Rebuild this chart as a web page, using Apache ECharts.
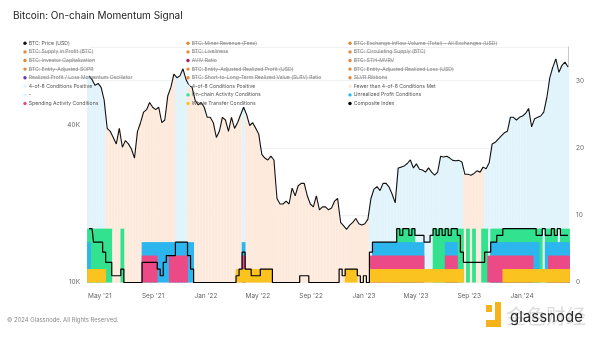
<!DOCTYPE html>
<html>
<head>
<meta charset="utf-8">
<script src="https://cdn.jsdelivr.net/npm/echarts@6/dist/echarts.min.js"></script>
<style>
  html, body { margin: 0; padding: 0; background: #fff; }
  #chart { width: 600px; height: 338px; }
</style>
</head>
<body>
<div id="chart"></div>
<script>
// Weekly observations, first week starting 2021-04-06
const firstWeek = '2021-04-06';

// BTC price, thousands of USD
const priceK = [
  62, 60, 57, 58, 56, 50, 39, 38, 36, 34,
  39, 33, 35, 34, 32.5, 30, 38, 41, 45, 46,
  49, 47, 46, 47, 41, 42, 52, 56, 63, 61,
  62, 66, 60, 57, 56, 50, 48, 49, 47, 43,
  43, 41, 36, 38, 43, 42, 38, 43, 39, 41,
  44, 47, 44, 40, 41, 39, 37, 31, 30, 29.5,
  30.5, 29.5, 21, 20, 20, 20.5, 20, 23, 21.5, 23.5,
  24, 24, 21.5, 20, 19.5, 21.5, 19, 19.5, 19.5, 19,
  19.3, 20.5, 21, 17, 16.5, 16, 16.6, 17, 17.6, 16.8,
  16.6, 16.8, 17.5, 21, 22.8, 23.3, 22.5, 24, 24, 23.2,
  21.8, 20.2, 27.5, 27.7, 28, 28.6, 29.5, 27.5, 28.5, 27.2,
  27, 26.5, 27.5, 26.5, 25.8, 26.5, 30.5, 30.3, 30.5, 30,
  29.4, 29.3, 29.4, 29, 26, 26, 25.8, 26.2, 26.8, 26.5,
  27.7, 27.3, 28.8, 34, 34.5, 35.5, 36.5, 37.5, 38, 43,
  43, 42, 43, 43.5, 44.5, 46.5, 39.5, 42.5, 43, 43.5,
  45, 51, 61, 67, 72, 64, 68, 70, 67
];

// Composite index (0-8 scale)
const compositeIndex = [
  8, 8, 6, 6, 6, 4.5, 3, 3, 1, 1,
  1, 2, 0, 0, 0, 0, 0, 0, 3, 3,
  3, 3, 3, 2, 1, 3, 4, 4, 4, 6,
  6, 6, 6, 4, 2, 0, 0, 0, 0, 0,
  0, 0, 0, 0, 0, 0, 0, 0, 0, 1,
  2, 4.5, 2, 2, 1, 1, 1, 2, 2, 2,
  2, 0, 0, 0, 0, 0, 0, 0, 0, 0,
  1, 1, 1, 0, 0, 0, 0, 0, 0, 0,
  0, 0, 0, 2, 1, 2, 2, 2, 2, 1,
  0, 1, 0, 4.5, 6, 6, 6, 6, 6, 6,
  6, 6, 8, 7, 8, 8, 7, 8, 7, 7,
  7, 6, 6, 7, 8, 7, 8, 7, 8, 7,
  8, 8, 7, 4.5, 3, 3, 3, 3, 3, 3,
  3, 4.5, 4.5, 6, 6, 7, 7, 8, 8, 8,
  8, 8, 8, 8, 8, 8, 8, 8, 7, 7,
  8, 7, 7, 8, 7, 8, 7, 7, 7
];

// Week-index ranges (inclusive) in which each condition group is met
const whaleWeeks    = [[0, 5], [49, 60], [85, 88], [93, 123], [137, 158]];
const spendingWeeks = [[18, 22], [27, 32], [51, 51], [93, 110], [118, 121], [132, 146], [152, 158]];
const profitWeeks   = [[0, 0], [18, 34], [51, 51], [94, 110], [118, 121], [133, 148], [151, 158]];
const activityWeeks = [[0, 7], [11, 11], [102, 107], [114, 123], [125, 125], [127, 127], [130, 131],
                       [133, 149], [151, 154], [156, 158]];

// Band heights on the index axis
const whaleLevel = 2, spendingLevel = 4, profitLevel = 6, activityLevel = 8;
const positiveThreshold = 4;

// Axis ticks
const xTickDates = ['2021-05-01', '2021-09-01', '2022-01-01', '2022-05-01', '2022-09-01',
                    '2023-01-01', '2023-05-01', '2023-09-01', '2024-01-01'];
const priceTicks = [10000, 40000];
const indexTicks = [0, 10, 20, 30];

// Legend columns
const legendColumns = [
  ['BTC: Price (USD)', 'BTC: Supply in Profit (BTC)', 'BTC: Investor Capitalization',
   'BTC: Entity-Adjusted SOPR', 'Realized Profit / Loss Momentum Oscillator',
   '4-of-8 Conditions Positive', '-', 'Spending Activity Conditions'],
  ['BTC: Miner Revenue (Fees)', 'BTC: Liveliness', 'AVIV Ratio',
   'BTC: Entity-Adjusted Realized Profit (USD)', 'BTC: Short-to-Long-Term Realized Value (SLRV) Ratio',
   '4-of-8 Conditions Positive ', 'On-chain Activity Conditions', 'Whale Transfer Conditions'],
  ['BTC: Exchange Inflow Volume (Total) - All Exchanges (USD)', 'BTC: Circulating Supply (BTC)',
   'BTC: STH-MVRV', 'BTC: Entity-Adjusted Realized Loss (USD)', 'SLVR Ribbons',
   'Fewer than 4-of-8 Conditions Met', 'Unrealized Profit Conditions', 'Composite Index']
];
const hiddenSeries = new Set([
  'BTC: Supply in Profit (BTC)', 'BTC: Investor Capitalization', 'BTC: Entity-Adjusted SOPR',
  'Realized Profit / Loss Momentum Oscillator', 'BTC: Miner Revenue (Fees)', 'BTC: Liveliness',
  'AVIV Ratio', 'BTC: Entity-Adjusted Realized Profit (USD)',
  'BTC: Short-to-Long-Term Realized Value (SLRV) Ratio',
  'BTC: Exchange Inflow Volume (Total) - All Exchanges (USD)', 'BTC: Circulating Supply (BTC)',
  'BTC: STH-MVRV', 'BTC: Entity-Adjusted Realized Loss (USD)', 'SLVR Ribbons'
]);

// ---- styling ----
const FONT = 'Inter, "Noto Sans", sans-serif';
const C = {
  price: '#111111', composite: '#000000',
  activity: '#33e28e', profit: '#2db6ee', spending: '#ec4a86', whale: '#fbc31f',
  positive: '#e1f3fb', negative: '#fdeadc',
  orange: '#e0893a', purple: '#6b32b8', magenta: '#a3226f'
};
const markerColor = {
  'BTC: Price (USD)': C.price, 'Realized Profit / Loss Momentum Oscillator': C.purple,
  'AVIV Ratio': C.magenta, '4-of-8 Conditions Positive': C.positive, '4-of-8 Conditions Positive ': C.positive,
  '-': C.positive, 'Spending Activity Conditions': C.spending, 'On-chain Activity Conditions': C.activity,
  'Whale Transfer Conditions': C.whale, 'Fewer than 4-of-8 Conditions Met': C.negative,
  'Unrealized Profit Conditions': C.profit, 'Composite Index': C.composite
};

const DAY = 864e5;
const t0 = Date.parse(firstWeek + 'T00:00:00Z');
const weekTime = priceK.map((_, i) => t0 + i * 7 * DAY);
const utc = s => Date.parse(s + 'T00:00:00Z');

function bandData(ranges, level) {
  const on = new Array(weekTime.length).fill(false);
  ranges.forEach(([a, b]) => { for (let i = a; i <= b; i++) on[i] = true; });
  return weekTime.map((t, i) => [t, on[i] ? level : '-']);
}

const priceSeries = weekTime.map((t, i) => [t, priceK[i] * 1000]);
const positiveShade = weekTime.map((t, i) => [t, compositeIndex[i] > positiveThreshold ? priceK[i] * 1000 : '-']);
const negativeShade = weekTime.map((t, i) => [t, compositeIndex[i] > positiveThreshold ? '-' : priceK[i] * 1000]);
const compositeSeries = weekTime.map((t, i) => [t, compositeIndex[i]]);

const MONTHS = ['Jan', 'Feb', 'Mar', 'Apr', 'May', 'Jun', 'Jul', 'Aug', 'Sep', 'Oct', 'Nov', 'Dec'];
const SHADE_W = 3.1;   // thin seams between weekly shading columns
const BAND_W = 3.8;    // condition bands overlap so they read as solid blocks

function barSeries(name, data, color, axis, width) {
  return {
    name, type: 'bar', data, yAxisIndex: axis, barWidth: width, barGap: '-100%',
    itemStyle: { color }, silent: true, animation: false
  };
}

// Legend drawn as graphic elements (struck-through entries are hidden series)
const measureCtx = document.createElement('canvas').getContext('2d');
const LEG_FONT = 5.1;
measureCtx.font = LEG_FONT + 'px ' + FONT;
const legendX = [25, 188, 350];
const legendY0 = 43.3, legendDY = 8.6;
const graphics = [];
legendColumns.forEach((col, c) => {
  col.forEach((name, r) => {
    const x = legendX[c], y = legendY0 + r * legendDY;
    const hidden = hiddenSeries.has(name);
    const color = markerColor[name] || C.orange;
    graphics.push({ type: 'circle', shape: { cx: x, cy: y, r: 1.7 }, style: { fill: color }, z: 100 });
    const label = name.trim();
    graphics.push({
      type: 'text', x: x + 3.8, y: y, z: 100,
      style: { text: label, font: LEG_FONT + 'px ' + FONT, fill: hidden ? '#8a8a8a' : '#555',
               verticalAlign: 'middle' }
    });
    if (hidden) {
      const w = measureCtx.measureText(label).width;
      graphics.push({ type: 'line', shape: { x1: x + 3.8, y1: y + 0.2, x2: x + 3.8 + w, y2: y + 0.2 },
                      style: { stroke: '#8a8a8a', lineWidth: 0.5 }, z: 101 });
    }
  });
});

// footer and brand mark
graphics.push({ type: 'text', x: 7, y: 320, z: 100,
  style: { text: '\u00a9 2024 Glassnode. All Rights Reserved.', font: '5.9px ' + FONT, fill: '#8a8a8a', verticalAlign: 'middle' } });
graphics.push({ type: 'rect', shape: { x: 486, y: 305, width: 6, height: 7 }, style: { fill: '#f6b21b' }, z: 100 });
graphics.push({ type: 'rect', shape: { x: 495, y: 302, width: 6, height: 25 }, style: { fill: '#f6b21b' }, z: 100 });
graphics.push({ type: 'rect', shape: { x: 486, y: 320, width: 15, height: 7 }, style: { fill: '#f6b21b' }, z: 100 });
graphics.push({ type: 'text', x: 506, y: 316, z: 99,
  style: { text: '金色财经', font: '20px "Noto Sans CJK SC", sans-serif', fill: '#dcdcdc', verticalAlign: 'middle' } });
graphics.push({ type: 'text', x: 510, y: 317, z: 100,
  style: { text: 'glassnode', font: '15px ' + FONT, fill: '#2a2a2a', verticalAlign: 'middle' } });

const chart = echarts.init(document.getElementById('chart'), null, { renderer: 'canvas' });
chart.setOption({
  animation: false,
  backgroundColor: '#fff',
  title: {
    text: 'Bitcoin: On-chain Momentum Signal', left: 8, top: 6,
    textStyle: { fontFamily: FONT, fontSize: 10, fontWeight: 'normal', color: '#222' }
  },
  grid: { left: 89, right: 32, top: 47, bottom: 55.5 },
  xAxis: {
    type: 'value',
    min: utc(firstWeek), max: utc('2024-04-16'),
    axisLine: { show: false }, axisTick: { show: false }, splitLine: { show: false },
    axisLabel: {
      customValues: xTickDates.map(utc), margin: 10,
      color: '#666', fontSize: 6.5, fontFamily: FONT,
      formatter: v => { const d = new Date(v); return MONTHS[d.getUTCMonth()] + " '" + String(d.getUTCFullYear()).slice(2); }
    }
  },
  yAxis: [
    {
      type: 'log', position: 'left', min: 10000, max: 80000,
      axisLine: { show: false }, axisTick: { show: false }, splitLine: { show: false },
      axisLabel: { customValues: priceTicks, color: '#666', fontSize: 6.5, fontFamily: FONT, margin: 9,
                   padding: [0, 0, 5, 0], formatter: v => Math.round(v / 1000) + 'K' }
    },
    {
      type: 'value', position: 'right', min: 0, max: 35,
      axisLine: { show: true, lineStyle: { color: '#c8c8c8', width: 1 } },
      axisTick: { show: false },
      splitLine: { show: true, lineStyle: { color: '#f1f1f1', width: 1 } },
      axisLabel: { customValues: indexTicks, color: '#666', fontSize: 6.5, fontFamily: FONT, margin: 8,
                   padding: [0, 0, 5, 0] }
    }
  ],
  series: [
    barSeries('Fewer than 4-of-8 Conditions Met', negativeShade, C.negative, 0, SHADE_W),
    barSeries('4-of-8 Conditions Positive', positiveShade, C.positive, 0, SHADE_W),
    barSeries('On-chain Activity Conditions', bandData(activityWeeks, activityLevel), C.activity, 1, BAND_W),
    barSeries('Unrealized Profit Conditions', bandData(profitWeeks, profitLevel), C.profit, 1, BAND_W),
    barSeries('Spending Activity Conditions', bandData(spendingWeeks, spendingLevel), C.spending, 1, BAND_W),
    barSeries('Whale Transfer Conditions', bandData(whaleWeeks, whaleLevel), C.whale, 1, BAND_W),
    {
      name: 'BTC: Price (USD)', type: 'line', yAxisIndex: 0, data: priceSeries,
      showSymbol: false, lineStyle: { color: C.price, width: 1.1 }, z: 5, silent: true
    },
    {
      name: 'Composite Index', type: 'line', yAxisIndex: 1, data: compositeSeries, step: 'middle',
      showSymbol: false, lineStyle: { color: C.composite, width: 1.2 }, z: 5, silent: true
    }
  ],
  graphic: graphics
});
</script>
</body>
</html>
